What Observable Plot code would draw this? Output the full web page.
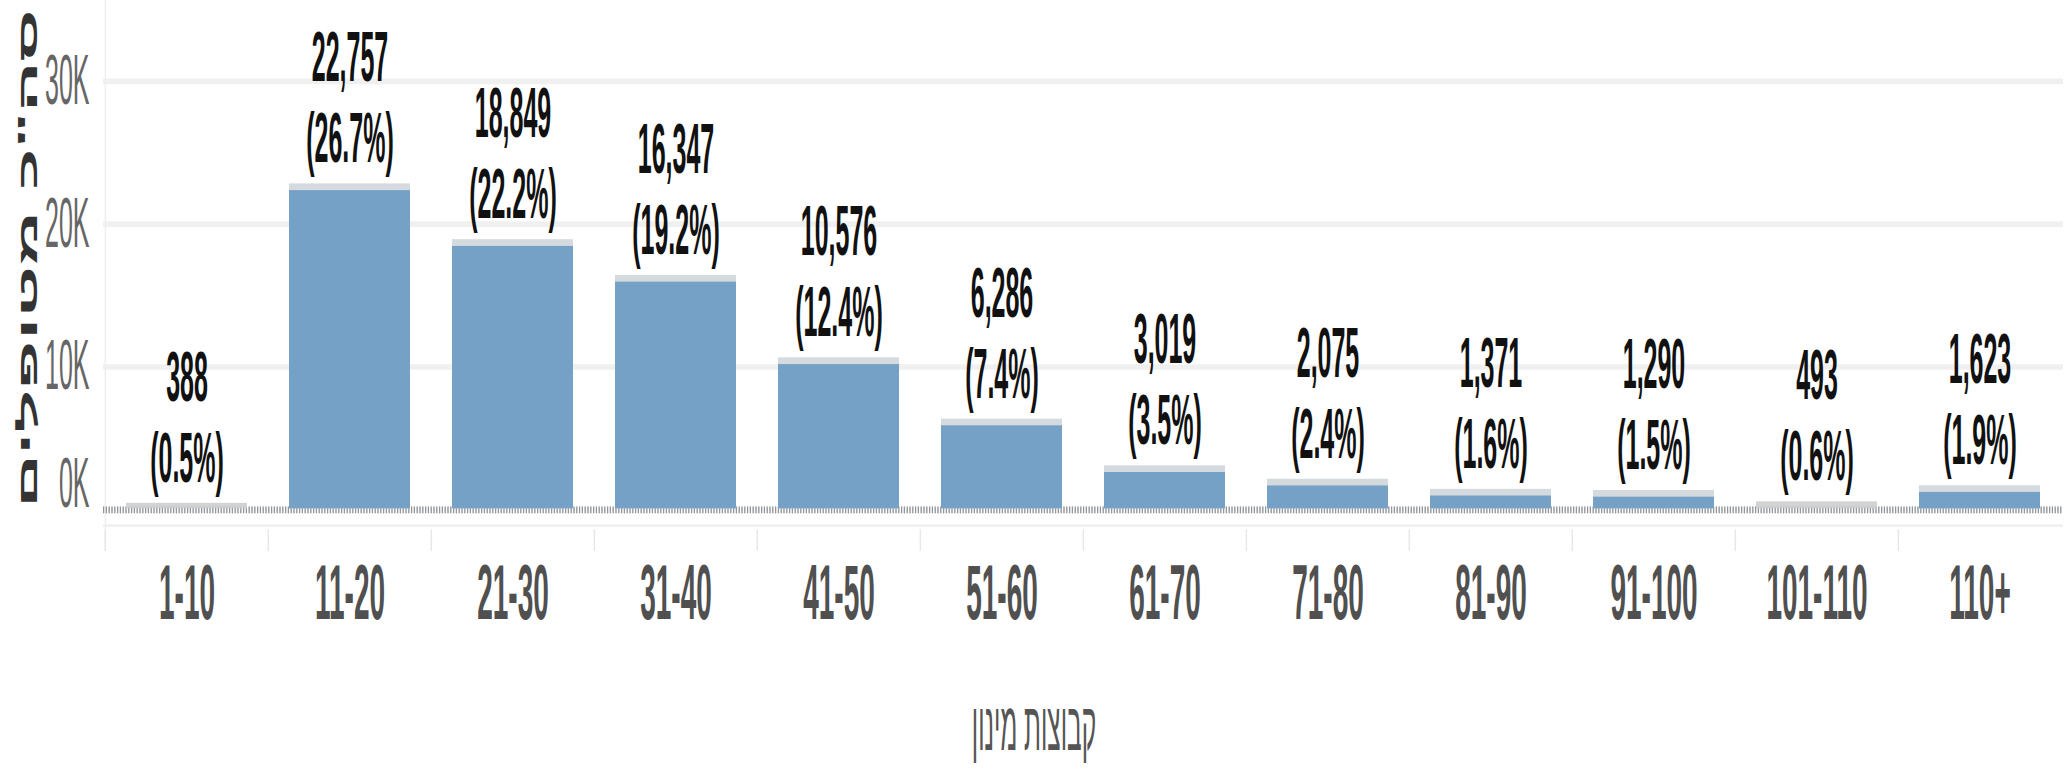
<!DOCTYPE html>
<html>
<head>
<meta charset="utf-8">
<script src="https://cdn.jsdelivr.net/npm/d3@7"></script>
<script src="https://cdn.jsdelivr.net/npm/@observablehq/plot@0.6"></script>
<style>
  html, body { margin: 0; padding: 0; background: #ffffff; }
  #chart { width: 2067px; height: 769px; overflow: hidden; }
</style>
</head>
<body>
<div id="chart"></div>
<script>
// ---- data ----
const categories = ["1-10", "11-20", "21-30", "31-40", "41-50", "51-60", "61-70", "71-80", "81-90", "91-100", "101-110", "110+"];
const counts = [388, 22757, 18849, 16347, 10576, 6286, 3019, 2075, 1371, 1290, 493, 1623];
const percents = [0.5, 26.7, 22.2, 19.2, 12.4, 7.4, 3.5, 2.4, 1.6, 1.5, 0.6, 1.9];
const yTicks = [10000, 20000, 30000];
const yZeroTick = [0];
const xTitle = "קבוצות מינון";
const yTitle = "סה\"כ מטופלים";

const data = categories.map((c, i) => ({cat: c, count: counts[i], pct: percents[i]}));

// the reference is a chart stretched vertically; draw in a compact box and stretch it
const W = 2067, H_OUT = 769, STRETCH = 2.8;
const H = Math.round(H_OUT / STRETCH);
const ml = 103, mr = 4, mt = 0, mb = 78;
const step = (W - ml - mr) / categories.length;
const fmt = d3.format(",");

const svg = Plot.plot({
  width: W,
  height: H,
  marginLeft: ml,
  marginRight: mr,
  marginTop: mt,
  marginBottom: mb,
  style: {fontFamily: "'Liberation Sans', Arial, sans-serif", background: "#ffffff", overflow: "visible"},
  x: {type: "band", domain: categories, paddingInner: 0.26, paddingOuter: 0.13, axis: null},
  y: {domain: [0, 35600], range: [181.8, 0], axis: null},
  marks: [
    // left frame line and band separators under the baseline
    Plot.tickX([categories[0]], {x: d => d, dx: -step / 2, stroke: "#efefef", strokeWidth: 1.5}),
    Plot.tickX(categories, {x: d => d, dx: -step / 2, insetTop: 189.3, stroke: "#e8e8e8", strokeWidth: 1.5}),
    // horizontal grid
    Plot.ruleY(yTicks, {stroke: "#f0f0f0", strokeWidth: 2}),
    // light axis line below baseline
    Plot.ruleY(yZeroTick, {dy: 5.7, stroke: "#f0f0f0", strokeWidth: 1}),
    // dotted zero line
    Plot.ruleY(yZeroTick, {stroke: "#8a8a8a", strokeWidth: 2.4, strokeDasharray: "1.2,1.6"}),
    // bars: light cap + body
    Plot.barY(data, {x: "cat", y: "count", fill: d => d.count < 500 ? "#d3d3d3" : "#d5dadf"}),
    Plot.barY(data, {filter: d => d.count >= 500, x: "cat", y: "count", fill: "#75a1c7", insetTop: 2.4}),
    Plot.ruleY(yZeroTick, {stroke: "#9aa8b6", strokeOpacity: 0.35, strokeWidth: 2.4, strokeDasharray: "1.2,1.6"}),
    // value labels
    Plot.text(data, {
      x: "cat", y: "count",
      text: d => `${fmt(d.count)}\n(${d.pct.toFixed(1)}%)`,
      lineAnchor: "bottom", dy: -8, lineHeight: 1.16,
      fontSize: 25, fontWeight: "bold", fill: "#111111"
    }),
    // axes
    Plot.axisX({tickSize: 0, tickPadding: 4, fontSize: 28, fontWeight: "bold", color: "#505050", label: null}),
    Plot.axisY(yTicks, {tickSize: 0, tickPadding: 14, fontSize: 25, color: "#666666", tickFormat: d => d / 1000 + "K", label: null}),
    Plot.axisY(yZeroTick, {tickSize: 0, tickPadding: 14, dy: -9, fontSize: 25, color: "#666666", tickFormat: d => d / 1000 + "K", label: null}),
    // axis titles
    Plot.text([yTitle], {frameAnchor: "left", dx: -75, dy: -6.5, rotate: -90, textAnchor: "middle", lineAnchor: "middle", fontSize: 27, fontWeight: "bold", fill: "#333333"}),
    Plot.text([xTitle], {frameAnchor: "bottom", dx: (mr - ml) / 2, dy: 63, textAnchor: "middle", lineAnchor: "middle", fontSize: 24.5, fill: "#555555"})
  ]
});

svg.setAttribute("width", W);
svg.setAttribute("height", H_OUT);
svg.setAttribute("viewBox", `0 0 ${W} ${H}`);
svg.setAttribute("preserveAspectRatio", "none");
svg.style.width = W + "px";
svg.style.height = H_OUT + "px";
svg.style.maxWidth = "none";
document.getElementById("chart").appendChild(svg);
</script>
</body>
</html>
